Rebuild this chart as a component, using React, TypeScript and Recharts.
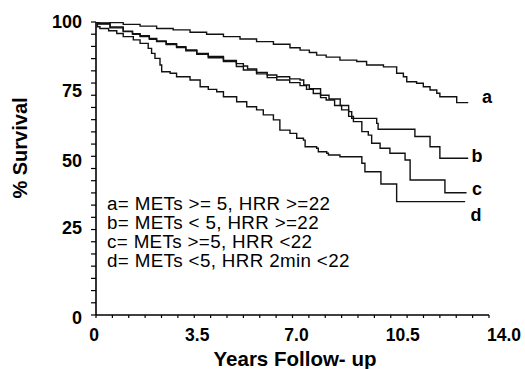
import React from "react";
import { LineChart, Line, XAxis, YAxis } from "recharts";

// Curve a: METs >= 5, HRR >= 22
const aYears = [0, 0.5, 0.97, 1.57, 2.16, 2.75, 3.35, 3.94, 4.54, 5.13, 5.72, 6.32, 6.91, 7.27, 7.6, 7.86, 8.2, 8.69, 9.29, 9.64, 10.24, 10.71, 10.95, 11.07, 11.42, 11.66, 11.9, 12.14, 12.25, 12.85, 13.26];
const aSurv = [100, 99.8, 99.2, 98.6, 97.8, 97.3, 96.5, 95.8, 95.0, 94.2, 93.3, 92.4, 91.2, 90.4, 89.6, 88.7, 88.0, 87.0, 86.5, 85.3, 84.7, 82.5, 81.3, 79.6, 79.1, 77.9, 76.8, 75.7, 74.5, 72.5, 72.5];

// Curve b: METs < 5, HRR >= 22
const bYears = [0, 0.1, 0.5, 0.97, 1.3, 1.57, 1.9, 2.16, 2.5, 2.87, 3.2, 3.59, 4.0, 4.54, 5.0, 5.25, 5.4, 5.72, 6.1, 6.44, 6.9, 7.27, 7.4, 7.6, 8.0, 8.3, 8.7, 9.0, 9.11, 10.0, 10.05, 11.36, 11.9, 12.25, 13.26];
const bSurv = [100, 99.5, 98.3, 96.9, 96.0, 95.3, 94.4, 93.5, 92.6, 91.6, 90.5, 89.3, 88.2, 86.9, 85.8, 85.0, 84.0, 82.8, 81.9, 81.3, 80.6, 80.2, 78.5, 77.2, 75.0, 73.7, 71.5, 69.4, 67.1, 65.4, 63.4, 60.9, 57.4, 53.5, 53.5];

// Curve c: METs >= 5, HRR < 22
const cYears = [0, 0.1, 0.5, 0.97, 1.3, 1.57, 1.9, 2.16, 2.5, 2.87, 3.2, 3.59, 4.0, 4.54, 5.0, 5.25, 5.72, 6.1, 6.44, 6.9, 7.27, 7.5, 7.74, 8.0, 8.2, 8.5, 8.75, 9.0, 9.17, 9.47, 9.7, 9.82, 10.12, 10.47, 11.01, 11.19, 12.43, 13.2];
const cSurv = [100, 99.3, 98.0, 96.7, 95.8, 95.0, 94.1, 93.3, 92.3, 91.3, 90.2, 89.0, 87.8, 86.5, 84.8, 83.6, 82.3, 81.0, 80.2, 79.3, 78.3, 77.0, 75.6, 74.2, 73.4, 71.5, 70.0, 67.8, 66.0, 62.6, 61.4, 58.6, 56.9, 55.2, 52.9, 46.1, 41.7, 41.7];

// Curve d: METs < 5, HRR 2min < 22
const dYears = [0, 0.05, 0.14, 0.45, 0.74, 0.97, 1.33, 1.57, 1.86, 1.98, 2.1, 2.28, 2.34, 2.64, 2.87, 3.35, 3.71, 4.0, 4.3, 4.54, 5.01, 5.37, 5.72, 5.96, 6.32, 6.55, 6.91, 7.15, 7.39, 7.45, 7.86, 7.92, 8.22, 8.28, 8.69, 9.47, 9.58, 10.15, 10.71, 13.15];
const dSurv = [100, 98.4, 97.8, 97.0, 96.1, 95.0, 93.9, 92.7, 91.0, 89.3, 87.6, 85.3, 83.0, 82.5, 81.3, 80.2, 77.9, 77.0, 76.2, 74.5, 72.8, 71.1, 70.0, 68.3, 66.6, 63.1, 62.0, 60.3, 59.7, 57.4, 56.9, 55.7, 55.2, 54.6, 54.0, 51.8, 48.9, 44.7, 38.7, 38.7];

const curveLetters = ["a", "b", "c", "d"];
const legendLines = [
  "a= METs >= 5, HRR >=22",
  "b= METs < 5, HRR >=22",
  "c= METs >=5, HRR <22",
  "d= METs <5, HRR 2min <22",
];

const xLabelValues = [0, 3.5, 7, 10.5, 14];
const xLabelText = ["0", "3.5", "7.0", "10.5", "14.0"];
const xLabelNudge = [-2, 3, 4, 12, 15];
const yLabelValues = [0, 25, 50, 75, 100];
const yLabelText = ["0", "25", "50", "75", "100"];
const yLabelNudge = [3, -14, -7.5, -4, 0];

const xTitle = "Years Follow- up";
const yTitle = "% Survival";

const toSeries = (xs: number[], ys: number[]) => xs.map((t, i) => ({ t, s: ys[i] }));
const seriesA = toSeries(aYears, aSurv);
const seriesB = toSeries(bYears, bSurv);
const seriesC = toSeries(cYears, cSurv);
const seriesD = toSeries(dYears, dSurv);

const xTicks = Array.from({ length: 25 }, (_, i) => (i * 7) / 12);
const yTicks = Array.from({ length: 25 }, (_, i) => (i * 25) / 6);

const FONT = '"Liberation Sans", Arial, Helvetica, sans-serif';

const findIdx = (vals: number[], v: number) => vals.findIndex((u) => Math.abs(u - v) < 1e-6);

const XTick = (props: any) => {
  const { x, y, payload } = props;
  const i = findIdx(xLabelValues, payload.value);
  if (i < 0) return <g />;
  return (
    <text x={x + xLabelNudge[i]} y={y} textAnchor="middle" dominantBaseline="central" fontFamily={FONT} fontWeight="bold" fontSize={17.5} fill="#000">
      {xLabelText[i]}
    </text>
  );
};

const YTick = (props: any) => {
  const { x, y, payload } = props;
  const i = findIdx(yLabelValues, payload.value);
  if (i < 0) return <g />;
  return (
    <text x={x} y={y + yLabelNudge[i]} textAnchor="end" dominantBaseline="central" fontFamily={FONT} fontWeight="bold" fontSize={18} fill="#000">
      {yLabelText[i]}
    </text>
  );
};

const lineStyle = { stroke: "#111", strokeWidth: 1.4 };
const curveLabelPos = [
  [487, 97],
  [477, 156],
  [477, 189],
  [476, 215],
];

export default function App() {
  return (
    <div style={{ position: "absolute", left: 0, top: 0, width: 525, height: 369, background: "#fff" }}>
      <LineChart width={525} height={369} margin={{ top: 22, right: 36, bottom: 0, left: 0 }}>
        <XAxis
          type="number"
          dataKey="t"
          domain={[0, 14]}
          ticks={xTicks}
          interval={0}
          height={54}
          tickSize={3}
          tickMargin={17}
          tick={<XTick />}
          axisLine={{ stroke: "#000", strokeWidth: 1.6 }}
          tickLine={{ stroke: "#000", strokeWidth: 1.2 }}
          allowDataOverflow
        />
        <YAxis
          type="number"
          domain={[0, 100]}
          ticks={yTicks}
          interval={0}
          width={96}
          tickSize={5}
          tickMargin={9}
          tick={<YTick />}
          axisLine={{ stroke: "#000", strokeWidth: 1.6 }}
          tickLine={{ stroke: "#000", strokeWidth: 1.2 }}
          allowDataOverflow
        />
        <Line data={seriesA} dataKey="s" type="stepAfter" dot={false} isAnimationActive={false} {...lineStyle} />
        <Line data={seriesB} dataKey="s" type="stepAfter" dot={false} isAnimationActive={false} {...lineStyle} />
        <Line data={seriesC} dataKey="s" type="stepAfter" dot={false} isAnimationActive={false} {...lineStyle} />
        <Line data={seriesD} dataKey="s" type="stepAfter" dot={false} isAnimationActive={false} {...lineStyle} />
      </LineChart>
      <svg width={525} height={369} style={{ position: "absolute", left: 0, top: 0, pointerEvents: "none" }}>
        {legendLines.map((t, i) => (
          <text key={t} x={107} y={203 + i * 19.3} dominantBaseline="central" fontFamily={FONT} fontSize={18.8} letterSpacing={0.35} fill="#000">
            {t}
          </text>
        ))}
        {curveLetters.map((c, i) => (
          <text key={c} x={curveLabelPos[i][0]} y={curveLabelPos[i][1]} textAnchor="middle" dominantBaseline="central" fontFamily={FONT} fontWeight="bold" fontSize={18} fill="#000">
            {c}
          </text>
        ))}
        <text x={295} y={358} textAnchor="middle" dominantBaseline="central" fontFamily={FONT} fontWeight="bold" fontSize={20.5} fill="#000">
          {xTitle}
        </text>
        <text transform="translate(20,148) rotate(-90)" textAnchor="middle" dominantBaseline="central" fontFamily={FONT} fontWeight="bold" fontSize={20} fill="#000">
          {yTitle}
        </text>
      </svg>
    </div>
  );
}
